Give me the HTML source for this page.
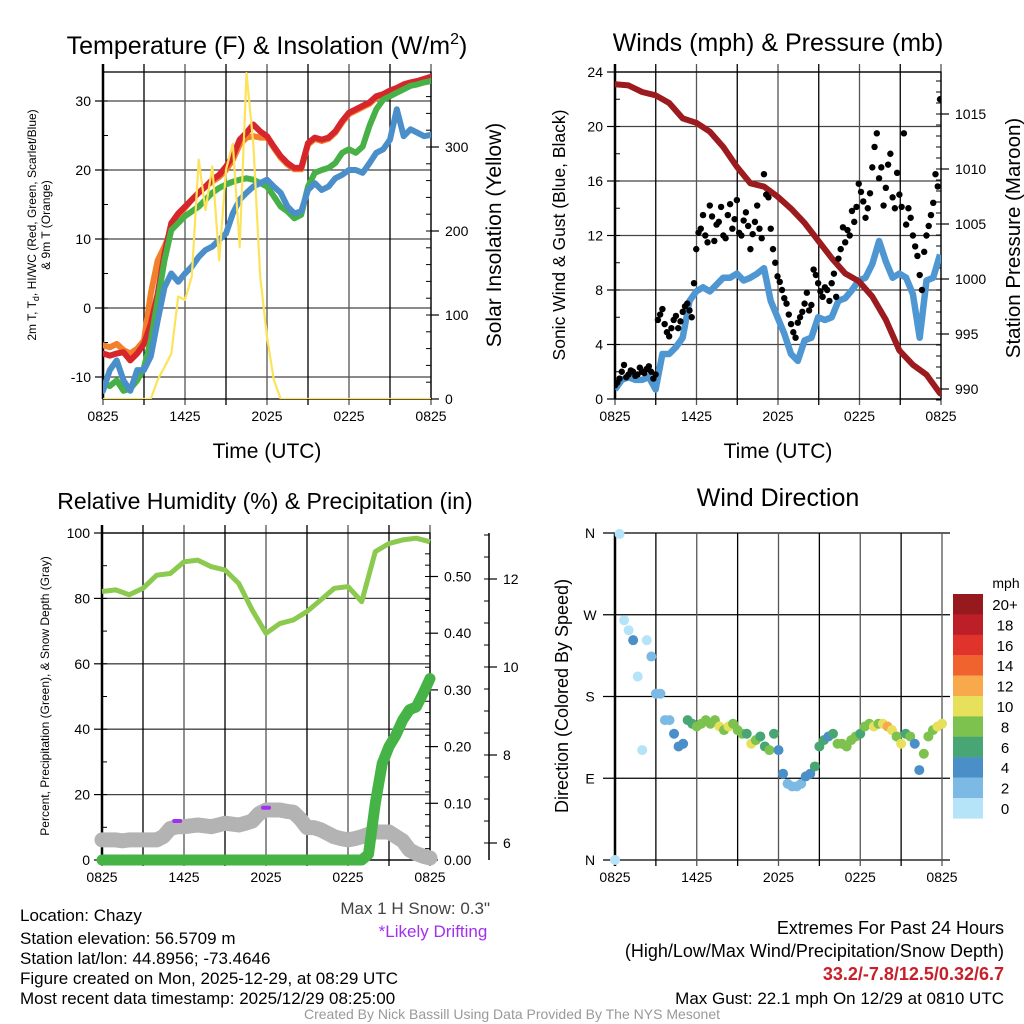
<!DOCTYPE html>
<html><head><meta charset="utf-8"><style>
html,body{margin:0;padding:0;background:#fff}
svg{display:block;font-family:"Liberation Sans",sans-serif}
</style></head><body>
<svg id="s" width="1024" height="1024" viewBox="0 0 1024 1024" xmlns="http://www.w3.org/2000/svg">
<defs>
<clipPath id="c1"><rect x="103" y="72" width="328" height="327"/></clipPath>
<clipPath id="c2"><rect x="615" y="72" width="326" height="327"/></clipPath>
<clipPath id="c3"><rect x="90" y="525" width="355" height="345"/></clipPath>
<clipPath id="c4"><rect x="605" y="525" width="345" height="345"/></clipPath>
</defs>
<g id="g1"></g>
<g id="g2"></g>
<g id="g3"></g>
<g id="g4"></g>

<text x="267" y="54" font-size="25" text-anchor="middle">Temperature (F) &amp; Insolation (W/m<tspan font-size="16" dy="-10">2</tspan><tspan dy="10">)</tspan></text>
<text x="778" y="51" font-size="25" text-anchor="middle">Winds (mph) &amp; Pressure (mb)</text>
<text x="265" y="509" font-size="23" text-anchor="middle">Relative Humidity (%) &amp; Precipitation (in)</text>
<text x="778" y="506" font-size="25" text-anchor="middle">Wind Direction</text>

<text transform="translate(36,225) rotate(-90)" font-size="12" text-anchor="middle">2m T, T<tspan font-size="9" dy="3">d</tspan><tspan dy="-3">, HI/WC (Red, Green, Scarlet/Blue)</tspan></text>
<text transform="translate(50,225) rotate(-90)" font-size="12" text-anchor="middle">&amp; 9m T (Orange)</text>
<text transform="translate(501,235) rotate(-90)" font-size="21" text-anchor="middle">Solar Insolation (Yellow)</text>
<text x="267" y="458" font-size="21" text-anchor="middle">Time (UTC)</text>

<text transform="translate(565,235) rotate(-90)" font-size="17.5" text-anchor="middle">Sonic Wind &amp; Gust (Blue, Black)</text>
<text transform="translate(1020,238) rotate(-90)" font-size="20.5" text-anchor="middle">Station Pressure (Maroon)</text>
<text x="778" y="458" font-size="21" text-anchor="middle">Time (UTC)</text>

<text transform="translate(49,696) rotate(-90)" font-size="12" text-anchor="middle">Percent, Precipitation (Green), &amp; Snow Depth (Gray)</text>
<text transform="translate(568,696) rotate(-90)" font-size="18" text-anchor="middle">Direction (Colored By Speed)</text>

<text x="490" y="914" font-size="17" fill="#444" text-anchor="end">Max 1 H Snow: 0.3"</text>
<text x="433" y="937" font-size="17" fill="#a030f0" text-anchor="middle">*Likely Drifting</text>
<g font-size="17">
<text x="20" y="921">Location: Chazy</text>
<text x="20" y="944">Station elevation: 56.5709 m</text>
<text x="20" y="964">Station lat/lon: 44.8956; -73.4646</text>
<text x="20" y="984">Figure created on Mon, 2025-12-29, at 08:29 UTC</text>
<text x="20" y="1004">Most recent data timestamp: 2025/12/29 08:25:00</text>
</g>
<text x="512" y="1019" font-size="14" fill="#999" text-anchor="middle">Created By Nick Bassill Using Data Provided By The NYS Mesonet</text>
<g font-size="18" text-anchor="end">
<text x="1004" y="934">Extremes For Past 24 Hours</text>
<text x="1004" y="957">(High/Low/Max Wind/Precipitation/Snow Depth)</text>
<text x="1004" y="980" fill="#c8202a" font-weight="bold">33.2/-7.8/12.5/0.32/6.7</text>
<text x="1004" y="1004" font-size="17">Max Gust: 22.1 mph On 12/29 at 0810 UTC</text>
</g>
</svg>
<script>
// ---- data (t in hours since 0825) ----
const xTickLabels = ["0825","1425","2025","0225","0825"];
const tempT = [-6.6,-6.9,-6.6,-6.4,-7.6,-6.6,-5.2,-2.3,2.1,7.9,12.3,13.7,14.7,15.7,16.7,17.6,18.6,19.3,20.5,22,24.4,25.4,26.6,25.6,24.9,23.4,22,21,20.3,20.3,23.9,24.7,24.4,24.7,25.6,27.1,28.3,28.8,29.3,29.8,30.7,31,31.5,31.9,32.4,32.7,32.9,33.2,33.5];
const temp9m = [-5.4,-5.7,-5.2,-6.1,-6.6,-5.9,-4.7,2.1,6.9,8.9,11.3,13.3,14.5,15.7,16.7,17.6,18.3,19,20,21.5,23.7,24.7,24.9,24.7,24.7,23.2,21.8,20.8,20.1,20.1,23.7,24.5,24.2,24.5,25.4,26.9,28.1,28.6,29.1,29.6,30.5,30.8,31.3,31.7,32.2,32.5,32.7,33,33.2];
const dewT = [-11,-11.3,-10.5,-12,-11.7,-10.5,-8.6,-4.7,1.1,6.9,11.3,12.3,13.3,14,14.7,15.7,16.7,17.4,17.9,18.3,18.6,18.8,18.6,18.1,17.6,16.2,14.7,14,13,13.5,17.6,19.6,20,20.3,21,22.5,23,22.5,23.4,26.4,28.8,30.2,30.7,31.2,31.7,32.2,32.4,32.7,32.9];
const windChill = [-12,-9,-7.6,-10.5,-12,-9,-9,-7,-1.8,3,5,3.8,5,6,7.4,8.4,8.9,9.9,10.8,13.7,15.7,16.7,17.6,18.1,18.6,17.6,16.7,14.7,13.7,14,17.1,18.1,17.1,17.6,18.8,19.3,20,20,19.6,21,22.5,23,24.4,28.8,24.9,25.9,25.4,24.9,25.1];
const solar = [0,0,0,0,0,0,0,0,23,38,54,122,118,146,285,225,277,165,273,304,181,388,304,146,74,23,0,0,0,0,0,0,0,0,0,0,0,0,0,0,0,0,0,0,0,0,0,0,0];
const windSus = [0.7,1.4,1.6,1.4,1.4,1.6,0.7,3.3,3.3,3.8,4.5,7.2,7.9,8.2,7.9,8.4,8.9,8.9,9.2,8.7,8.9,9.2,9.6,7.2,6,4.8,3.3,2.8,4.3,4.5,6,5.8,6,7.2,7.4,8,8.7,8.9,9.9,11.6,10.1,8.9,9.2,8.9,7.7,4.5,8.7,8.9,10.6];
const gusts = [1,1.5,2.5,1.8,2,1.8,2,2.2,2,1.8,6.2,5.5,4.6,5.8,5.2,6.4,7,6,11,12.5,12,14.2,11.6,13,12,13.5,12.5,14.6,12,13.7,11,13,12.5,16.5,14.8,11,9,8,7,5.5,4.5,6,7,6.5,9.5,8.5,7.5,8,8.5,7.5,11,11.5,12,13,15.8,14.5,14,17,19.5,17,15.5,18,14,15,19.5,14,12,10.5,8,12,13.5,16.5,22];
const gusts2 = [1.2,2,1.6,2.1,1.7,2.3,1.9,2.4,1.5,5.8,6.6,4.9,5.2,6.1,5.7,6.8,6.5,8.5,12.2,13.5,11.5,13.4,12.8,14.1,11.8,14.3,13.2,12.2,13.1,12.7,12.1,14.2,11.8,15,12.5,10,8.6,7.4,6.2,4.9,5.6,6.4,7.8,6.9,9.1,7.9,8.2,7.2,9.2,10.3,12.6,12.4,13.8,14.1,15.2,13.3,15.1,18.5,16.2,14.2,17.2,14.8,16.6,14.1,12.8,13.3,11.2,9.1,10.8,12.7,14.4,15.6];
const pressure = [1017.7,1017.6,1017,1016.7,1016,1014.6,1014.2,1013.4,1012,1010.2,1008.7,1008.4,1007.5,1006.4,1005.1,1003.5,1001.9,1000.5,999.8,998.4,996.3,993.5,992.2,991.3,989.6];
const rh = [82.1,82.6,81.1,83.1,87.1,87.6,91.2,91.7,89.7,88.7,84.6,76.4,69.3,72.3,73.4,76,79.5,83.1,83.6,79,94.3,96.8,97.9,98.4,97.3];
const precip = [0,0,0,0,0,0,0,0,0,0,0,0,0,0,0,0,0,0,0,0,0,0,0,0,0,0,0,0,0,0,0,0,0,0,0,0,0,0,0,0.01,0.10,0.17,0.20,0.22,0.247,0.265,0.27,0.294,0.32];
const snow = [6.07,6.07,6.07,6.05,6.07,6.07,6.07,6.07,6.07,6.15,6.33,6.37,6.37,6.39,6.41,6.39,6.37,6.41,6.45,6.43,6.41,6.45,6.5,6.67,6.75,6.75,6.75,6.72,6.7,6.55,6.35,6.35,6.3,6.22,6.14,6.1,6.07,6.1,6.14,6.2,6.25,6.25,6.25,6.15,6.05,5.84,5.76,5.7,5.66];
const driftT = [5.5,12];
const driftVal = [6.5,6.8];
const windDir = [0,359,264,253,242,202,121,242,224,183,183,154,154,139,125,128,154,150,147,150,154,150,154,147,143,147,150,143,139,139,128,132,136,125,121,139,121,95,84,81,81,84,92,95,103,125,132,136,139,128,128,125,132,136,139,147,150,147,150,150,147,143,136,128,139,136,128,99,117,136,143,147,150];
const dirSpeed = [1,1,1,1,4,1,1,1,3,2.5,3,3,3,4.5,4.5,4.5,6.5,7,8.5,8.5,8.5,9,8.5,10.5,9,10.5,8.5,9,9,7,10.5,8.5,7,6.5,8.5,6.5,4.5,4.5,3,3,3,3,4.5,4.5,6.5,7,6.5,4.5,6.5,8.5,8.5,8.5,8.5,8.5,6.5,8.5,9,10.5,9,10.5,12.5,10.5,9,10.5,6.5,8.5,4.5,4.5,8.5,8.5,9,10.5,10.5];
const speedBinLabels = ["20+","18","16","14","12","10","8","6","4","2","0"];
const speedColors = ["#b5e3f8","#7cb9e4","#4a8fc7","#47a674","#7dc24f","#e7e05b","#f8a94b","#f0622e","#e0332b","#bd1f28","#961a1d"];

const NS="http://www.w3.org/2000/svg";
function mk(parent,tag,at){const e=document.createElementNS(NS,tag);for(const k in at)e.setAttribute(k,at[k]);parent.appendChild(e);return e;}
function pathFrom(ts,vs,fx,fy){return ts.map((t,i)=>(i?"L":"M")+fx(t).toFixed(1)+","+fy(vs[i]).toFixed(1)).join("");}
function times(n,step){return Array.from({length:n},(_,i)=>i*step);}

function frame(g,x0,x1,y0,y1){
  for(let i=0;i<=8;i++){const x=x0+(x1-x0)*i/8;
    const l=mk(g,"line",{x1:x,x2:x,y1:y0-8,y2:y1+6,stroke:(i%2?"#000":"#555"),"stroke-width":1.3});
    
    }
  xTickLabels.forEach((s,i)=>{const t=mk(g,"text",{x:x0+(x1-x0)*i/4,y:y1+22,"font-size":14,"text-anchor":"middle"});t.textContent=s;
    
    });
  const r=mk(g,"rect",{x:x0,y:y0,width:x1-x0,height:y1-y0,fill:"none",stroke:"#000","stroke-width":1.3});
  
  
  mk(g,"line",{x1:x0,x2:x0,y1:y0-8,y2:y1,stroke:"#000","stroke-width":2.5});
}
function yAxis(g,vals,fy,x,side,x0,x1,grid,fmt,minorStep,vmin,vmax){
  vals.forEach(v=>{const y=fy(v);
    if(grid){const l=mk(g,"line",{x1:x0,x2:x1,y1:y,y2:y,stroke:"#444","stroke-width":1.3});
      
      }
    mk(g,"line",{x1:x,x2:x+(side<0?-8:8),y1:y,y2:y,stroke:"#000","stroke-width":1.2});
    const t=mk(g,"text",{x:x+(side<0?-12:14),y:y+5,"font-size":14,"text-anchor":side<0?"end":"start"});
    t.textContent=fmt(v);
    
    });
  if(minorStep){for(let v=Math.ceil(vmin/minorStep)*minorStep;v<=vmax;v+=minorStep){const y=fy(v);
    mk(g,"line",{x1:x,x2:x+(side<0?5:-5),y1:y,y2:y,stroke:"#000","stroke-width":1});}}
}

// ---- Panel 1 ----
(function(){
  const g=document.getElementById("g1");
  const fx=t=>103+t*328/24, fT=v=>308-v*6.9, fS=v=>399-v*0.84;
  yAxis(g,[30,20,10,0,-10],fT,103,-1,103,431,true,v=>v,5,-13,34);
  frame(g,103,431,72,399);
  yAxis(g,[0,100,200,300],fS,431,1,0,0,false,v=>v,20,0,390);
  const cg=mk(g,"g",{"clip-path":"url(#c1)"});
  const t=times(49,0.5);
  [[temp9m,"#f47f2a","9m-temperature-line"],[tempT,"#d7262b","temperature-line"],[dewT,"#47b046","dewpoint-line"],[windChill,"#4b8fca","wind-chill-line"]].forEach(([d,c,n])=>{
    const p=mk(cg,"path",{d:pathFrom(t,d,fx,fT),fill:"none",stroke:c,"stroke-width":6,"stroke-linejoin":"round","stroke-linecap":"round"});
    
    });
  const p=mk(cg,"path",{d:pathFrom(t,solar,fx,fS),fill:"none",stroke:"#fde35a","stroke-width":2.2,"stroke-linejoin":"round"});
  
  
})();

// ---- Panel 2 ----
(function(){
  const g=document.getElementById("g2");
  const fx=t=>615+t*325/24, fW=v=>399-v*13.625, fP=v=>389-(v-990)*11;
  yAxis(g,[0,4,8,12,16,20,24],fW,615,-1,615,941,true,v=>v,2,0,24);
  frame(g,615,941,72,399);
  yAxis(g,[990,995,1000,1005,1010,1015],fP,941,1,0,0,false,v=>v,1,989,1018);
  const cg=mk(g,"g",{"clip-path":"url(#c2)"});
  let p=mk(cg,"path",{d:pathFrom(times(49,0.5),windSus,fx,fW),fill:"none",stroke:"#4f97d2","stroke-width":6.5,"stroke-linejoin":"round"});
  
  
  p=mk(cg,"path",{d:pathFrom(times(25,1),pressure,fx,fP),fill:"none",stroke:"#9b1b1e","stroke-width":6,"stroke-linejoin":"round","stroke-linecap":"round"});
  
  
  gusts.forEach((v,i)=>{const c=mk(cg,"circle",{cx:fx(i/3),cy:fW(v),r:3.2,fill:"#000"});
    
    });
  gusts2.forEach((v,i)=>{const c=mk(cg,"circle",{cx:fx(i/3+1/6),cy:fW(v),r:3.2,fill:"#000"});
    
    });
})();

// ---- Panel 3 ----
(function(){
  const g=document.getElementById("g3");
  const fx=t=>102+t*328/24, fR=v=>860-v*3.27, fPr=v=>860-v*567, fSn=v=>843-(v-6)*44;
  yAxis(g,[0,20,40,60,80,100],fR,102,-1,102,430,true,v=>v,10,0,100);
  frame(g,102,430,533,860);
  yAxis(g,[0,0.1,0.2,0.3,0.4,0.5],fPr,430,1,0,0,false,v=>v.toFixed(2),0.02,0,0.57);
  mk(g,"line",{x1:489,x2:489,y1:533,y2:860,stroke:"#000","stroke-width":1.5});
  yAxis(g,[6,8,10,12],fSn,489,1,0,0,false,v=>v,0.5,5.7,13);
  const cg=mk(g,"g",{"clip-path":"url(#c3)"});
  const t=times(49,0.5);
  let p=mk(cg,"path",{d:pathFrom(t,snow,fx,fSn),fill:"none",stroke:"#b3b3b3","stroke-width":15,"stroke-linejoin":"round","stroke-linecap":"round"});
  
  
  driftT.forEach((d,i)=>{const r=mk(cg,"line",{x1:fx(d)-3,x2:fx(d)+3,y1:fSn(driftVal[i]),y2:fSn(driftVal[i]),stroke:"#a030f0","stroke-width":4,"stroke-linecap":"round"});
    
    });
  p=mk(cg,"path",{d:pathFrom(t,precip,fx,fPr),fill:"none",stroke:"#46b347","stroke-width":11,"stroke-linejoin":"round","stroke-linecap":"round"});
  
  
  p=mk(cg,"path",{d:pathFrom(times(25,1),rh,fx,fR),fill:"none",stroke:"#8bc94f","stroke-width":5,"stroke-linejoin":"round"});
  
  
})();

// ---- Panel 4 ----
(function(){
  const g=document.getElementById("g4");
  const fx=t=>615+t*327/24, fD=d=>860-d*327/360;
  [["N",360],["W",270],["S",180],["E",90],["N",0]].forEach(([s,d])=>{const y=fD(d);
    const l=mk(g,"line",{x1:603,x2:950,y1:y,y2:y,stroke:"#000","stroke-width":1.3});
    
    
    const t=mk(g,"text",{x:590,y:y+5,"font-size":14,"text-anchor":"middle"});t.textContent=s;
    
    });
  for(let i=0;i<=8;i++){const x=615+327*i/8;
    const l=mk(g,"line",{x1:x,x2:x,y1:533,y2:866,stroke:(i%2?"#000":"#555"),"stroke-width":1.3});
    
    }
  mk(g,"line",{x1:615,x2:615,y1:533,y2:866,stroke:"#000","stroke-width":2.5});
  xTickLabels.forEach((s,i)=>{const t=mk(g,"text",{x:615+327*i/4,y:882,"font-size":14,"text-anchor":"middle"});t.textContent=s;
    
    });
  const cg=mk(g,"g",{"clip-path":"url(#c4)"});
  windDir.forEach((d,i)=>{const s=dirSpeed[i];const bin=Math.min(10,Math.floor(s/2));
    const c=mk(cg,"circle",{cx:fx(i/3),cy:fD(d),r:5,fill:speedColors[bin]});
    
    });
  const cb=mk(g,"g",{});
  
  
  speedBinLabels.forEach((s,i)=>{const y=594+i*20.4;
    mk(cb,"rect",{x:953,y:y,width:30,height:20.6,fill:speedColors[10-i]});
    const t=mk(cb,"text",{x:1005,y:y+16,"font-size":15,"text-anchor":"middle"});t.textContent=s;
    
    });
  const u=mk(cb,"text",{x:1006,y:588,"font-size":14,"text-anchor":"middle"});u.textContent="mph";
  
  
})();
</script>
</body></html>
